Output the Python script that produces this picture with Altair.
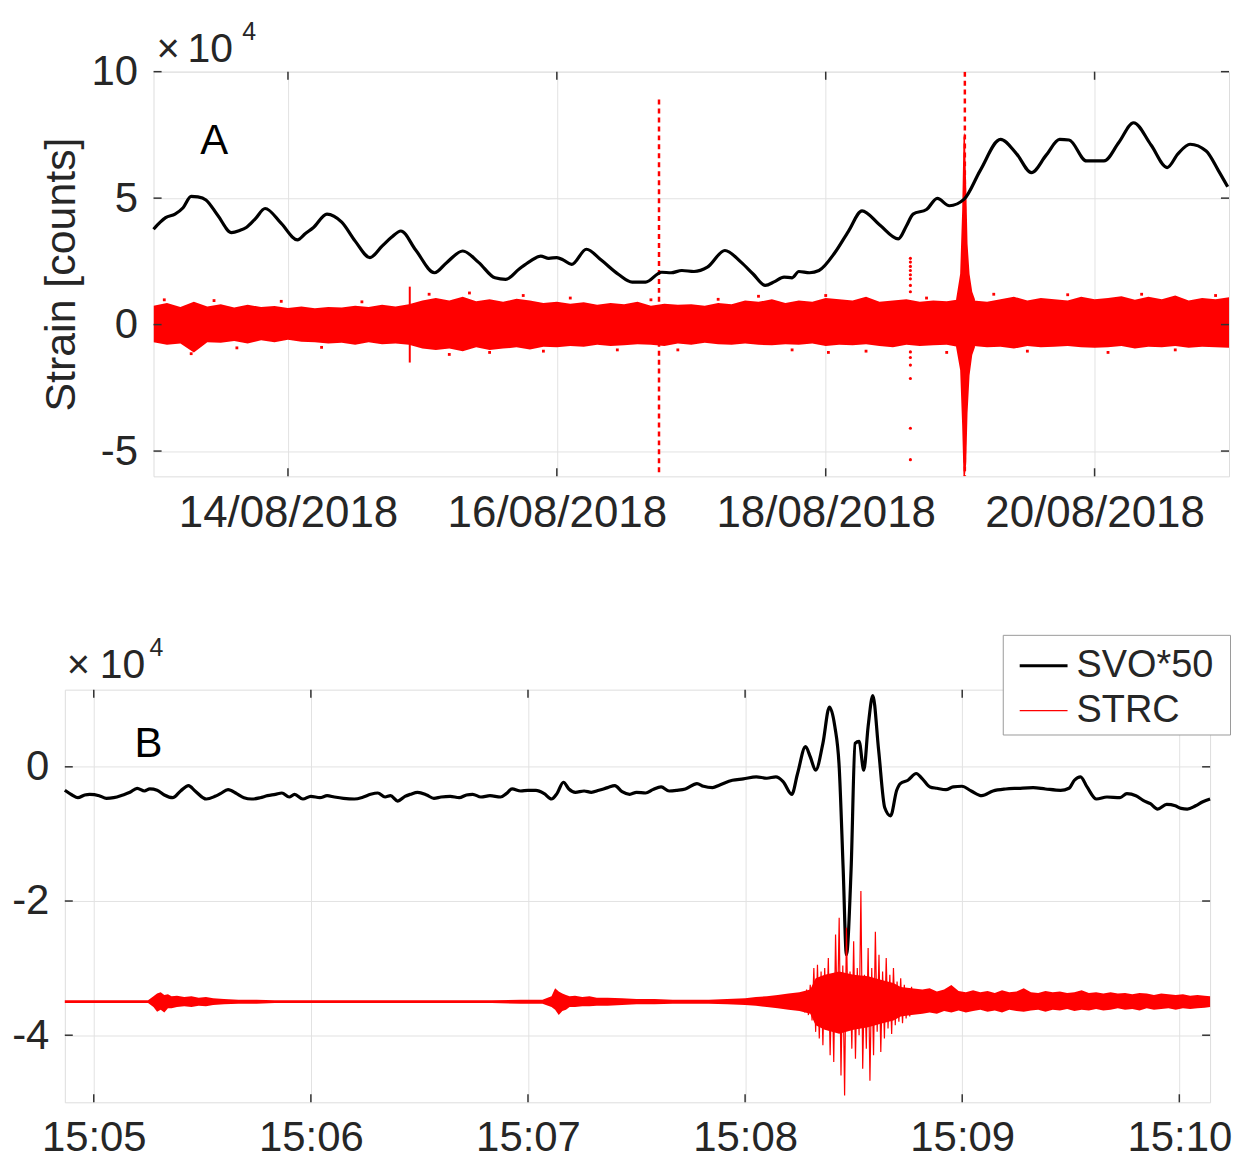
import altair as alt
import pandas as pd

DAY_MS = 86400000
BASE_A = pd.Timestamp("2018-08-13T00:00:00Z").value // 10**6
BASE_B = pd.Timestamp("2018-08-16T15:05:00Z").value // 10**6

# ---------------- Panel A (days after 13/08/2018 00:00 UTC, values x1e4 counts)
svo_a_day = [0.0, 0.05, 0.09, 0.16, 0.22, 0.28, 0.33, 0.39, 0.48, 0.58, 0.64, 0.69, 0.76, 0.83, 0.95,
             1.07, 1.13, 1.19, 1.29, 1.40, 1.50, 1.61, 1.70, 1.77, 1.84, 1.95, 2.09, 2.18, 2.30,
             2.42, 2.54, 2.62, 2.72, 2.80, 2.88, 2.94, 3.00, 3.05, 3.11, 3.22, 3.33, 3.46, 3.56,
             3.66, 3.78, 3.85, 3.93, 4.02, 4.12, 4.25, 4.37, 4.46, 4.55, 4.62, 4.69, 4.75, 4.80,
             4.88, 4.95, 5.07, 5.17, 5.27, 5.40, 5.54, 5.60, 5.65, 5.75, 5.83, 5.92, 6.03, 6.15,
             6.30, 6.42, 6.53, 6.64, 6.74, 6.81, 6.94, 7.07, 7.18, 7.29, 7.42, 7.54, 7.62, 7.71,
             7.83, 7.92, 7.99]
svo_a_val = [3.77, 4.05, 4.23, 4.37, 4.62, 5.07, 5.05, 4.93, 4.30, 3.64, 3.72, 3.84, 4.20, 4.59, 4.00,
             3.35, 3.60, 3.84, 4.37, 4.05, 3.30, 2.65, 3.10, 3.45, 3.70, 2.95, 2.05, 2.45, 2.91,
             2.45, 1.85, 1.79, 2.20, 2.50, 2.71, 2.62, 2.65, 2.55, 2.38, 2.98, 2.55, 1.98, 1.68,
             1.68, 2.07, 2.05, 2.14, 2.10, 2.27, 2.93, 2.47, 2.00, 1.55, 1.70, 1.88, 1.85, 2.10,
             2.05, 2.14, 2.86, 3.70, 4.50, 3.95, 3.39, 3.90, 4.37, 4.55, 4.99, 4.70, 4.96, 6.10,
             7.32, 6.75, 6.01, 6.70, 7.32, 7.30, 6.47, 6.47, 7.20, 7.98, 7.10, 6.21, 6.75, 7.13,
             6.86, 6.10, 5.45]

band_a_day = [0.0, 0.1, 0.2, 0.3, 0.4, 0.5, 0.6, 0.7, 0.8, 0.9, 1.0, 1.1, 1.2, 1.3, 1.4, 1.5, 1.6,
              1.7, 1.8, 1.9, 2.0, 2.1, 2.2, 2.3, 2.4, 2.5, 2.6, 2.7, 2.8, 2.9, 3.0, 3.1, 3.2, 3.3,
              3.4, 3.5, 3.6, 3.7, 3.8, 3.9, 4.0, 4.1, 4.2, 4.3, 4.4, 4.5, 4.6, 4.7, 4.8, 4.9, 5.0,
              5.1, 5.2, 5.3, 5.4, 5.5, 5.6, 5.7, 5.8, 5.9, 6.0, 6.1, 6.2, 6.3, 6.4, 6.5, 6.6, 6.7,
              6.8, 6.9, 7.0, 7.1, 7.2, 7.3, 7.4, 7.5, 7.6, 7.7, 7.8, 7.9, 8.0]
band_a_hi = [0.75, 0.85, 0.70, 0.90, 0.72, 0.80, 0.68, 0.78, 0.70, 0.74, 0.66,
             0.72, 0.65, 0.70, 0.68, 0.75, 0.70, 0.78, 0.72, 0.80, 0.95,
             1.05, 0.95, 1.10, 0.92, 1.00, 0.90, 1.02, 0.95, 0.85, 0.90,
             0.82, 0.88, 0.78, 0.85, 0.80, 0.90, 0.75, 0.82, 0.78, 0.80,
             0.75, 0.85, 0.80, 0.95, 0.90, 1.00, 0.85, 0.95, 0.90, 1.05,
             1.00, 0.95, 1.10, 0.90, 0.95, 1.00, 0.90, 0.95, 0.92, 1.00,
             0.95, 0.90, 1.00, 1.10, 0.95, 1.05, 1.00, 0.95, 1.10, 1.00,
             1.05, 1.12, 0.98, 1.10, 1.00, 1.15, 0.95, 1.05, 1.00, 1.08]
band_a_lo = [-0.70, -0.80, -0.75, -1.10, -0.70, -0.72, -0.65, -0.75, -0.62, -0.70, -0.60,
             -0.68, -0.70, -0.75, -0.72, -0.80, -0.70, -0.78, -0.75, -0.80, -0.95,
             -1.00, -0.95, -1.05, -0.90, -1.00, -0.95, -0.90, -0.98, -0.88, -0.90,
             -0.85, -0.88, -0.80, -0.85, -0.82, -0.78, -0.80, -0.85, -0.75, -0.80,
             -0.72, -0.78, -0.80, -0.75, -0.80, -0.82, -0.78, -0.80, -0.75, -0.85,
             -0.80, -0.82, -0.78, -0.85, -0.90, -0.80, -0.85, -0.82, -0.80, -0.90,
             -0.85, -0.90, -0.88, -0.95, -0.85, -0.90, -0.88, -0.85, -0.90, -0.92,
             -0.90, -0.85, -0.95, -0.88, -0.90, -0.85, -0.92, -0.88, -0.90, -0.92]

# scattered samples just outside the dense band
outl_a_day = [0.08, 0.28, 0.45, 0.62, 0.95, 1.25, 1.55, 2.05, 2.20, 2.35, 2.50, 2.75, 2.90, 3.10,
              3.45, 3.70, 3.90, 4.20, 4.50, 4.75, 5.00, 5.02, 5.30, 5.75, 5.90, 6.25, 6.50, 6.80,
              7.10, 7.35, 7.60, 7.90]
outl_a_val = [0.98, -1.15, 0.95, -0.92, 0.92, -0.90, 0.90, 1.20, -1.18, 1.25, -1.10, 1.15, -1.05,
              1.05, -1.00, 0.98, -1.00, 1.00, 1.12, -1.00, 1.15, -1.10, -1.05, 1.05, -1.10, 1.20,
              -1.05, 1.18, -1.10, 1.20, -1.00, 1.15]

# large event (spindle) on 19/08
burst_a_day = [5.97, 6.00, 6.015, 6.025, 6.035, 6.045, 6.055, 6.07, 6.09, 6.11]
burst_a_hi = [1.0, 2.0, 4.5, 7.4, 7.6, 5.5, 3.2, 2.0, 1.3, 1.0]
burst_a_lo = [-0.9, -1.8, -4.0, -6.0, -6.0, -5.5, -3.5, -2.0, -1.2, -0.9]

# short solid spike on 14/08
spike_a_day = [1.906]
spike_a_lo = [-1.5]
spike_a_hi = [1.5]

# dashed spikes
dash_a_day = [3.76, 6.035]
dash_a_lo = [-6.0, -6.0]
dash_a_hi = [8.9, 10.0]

# isolated samples of 18/08
dots_a_day = [5.63] * 14
dots_a_val = [2.62, 2.47, 2.30, 2.14, 1.97, 1.81, 1.55, 1.30, -1.08, -1.30, -1.60, -2.13, -4.10, -5.34]

# tick positions
ticks_a_day = [1, 3, 5, 7]
ticks_a_val = [-5, 0, 5, 10]

# ---------------- Panel B (seconds after 15:05:00, values x1e4 counts)
svo_b_t = [-8.0, -6, -4.4, -2.5, -1.1, 1.5, 3.5, 5.5, 8, 10, 12, 14, 15.5, 17.5, 19.5, 21.8, 24, 26.2,
           28, 31.1, 33.5, 35, 37.1, 39.5, 41.5, 43.6, 46, 48, 50.2, 52, 54, 55.5, 57.8, 60, 62.5,
           64.5, 66.5, 69, 72, 74.5, 76.5, 78.5, 80.5, 82, 84, 86, 87.5, 89.5, 92, 94, 96, 98.5,
           101, 103, 104.7, 107, 109.5, 112.4, 114, 115.6, 118, 120, 122.2, 124.5, 126.5, 128,
           129.8, 131.3, 133.1, 135.5, 137.5, 139.6, 142, 144, 146, 148.1, 150, 152.5, 154.5,
           156.8, 159, 161.2, 163.5, 166.7, 168.5, 171, 173, 176.5, 179.5, 183.1, 186, 188.5,
           190.5, 192.9, 194.5, 196.7, 198, 199.5, 201.5, 203.3, 204.8, 206.0, 207.1, 208.0,
           209.3, 210.4, 211.5, 212.8, 214, 215.3, 216.9, 218.6, 220.2, 221.9, 222.9, 225,
           227.3, 229, 231.1, 233, 235.5, 237.5, 239.9, 242.5, 245.4, 248.5, 252, 255.5, 259.6,
           263, 267.2, 269.5, 271, 272.7, 274.5, 277.1, 280, 283.6, 285.5, 288, 290, 292, 294,
           296.5, 298.9, 300.5, 302.2, 304.5, 306.5, 308.5]
svo_b_val = [-0.35, -0.42, -0.46, -0.42, -0.41, -0.43, -0.47, -0.46, -0.42, -0.38, -0.32, -0.36,
             -0.33, -0.35, -0.42, -0.46, -0.36, -0.28, -0.36, -0.48, -0.44, -0.40, -0.34, -0.40,
             -0.46, -0.48, -0.46, -0.43, -0.41, -0.39, -0.45, -0.41, -0.48, -0.44, -0.46, -0.43,
             -0.45, -0.47, -0.48, -0.45, -0.41, -0.39, -0.45, -0.43, -0.51, -0.44, -0.41, -0.38,
             -0.42, -0.47, -0.45, -0.44, -0.46, -0.42, -0.41, -0.45, -0.43, -0.45, -0.40, -0.33,
             -0.36, -0.35, -0.35, -0.40, -0.48, -0.40, -0.23, -0.33, -0.38, -0.36, -0.38, -0.35,
             -0.31, -0.28, -0.37, -0.41, -0.38, -0.39, -0.34, -0.30, -0.36, -0.35, -0.33, -0.25,
             -0.29, -0.31, -0.27, -0.20, -0.18, -0.15, -0.17, -0.15, -0.22, -0.41, -0.10, 0.30,
             0.15, -0.05, 0.35, 0.89, 0.60, 0.00, -1.52, -2.80, -1.52, 0.35, 0.38, -0.05, 0.60,
             1.06, 0.25, -0.61, -0.73, -0.35, -0.25, -0.20, -0.10, -0.18, -0.30, -0.32, -0.34,
             -0.30, -0.29, -0.36, -0.43, -0.36, -0.33, -0.32, -0.31, -0.33, -0.35, -0.32, -0.20,
             -0.15, -0.30, -0.48, -0.45, -0.46, -0.40, -0.43, -0.50, -0.55, -0.63, -0.56, -0.58,
             -0.62, -0.63, -0.58, -0.52, -0.48]

strc_b_t = [194.0, 194.5, 195.0, 195.5, 196.0, 196.5, 197.0, 197.5, 198.0, 198.5, 199.0, 199.5,
            200.0, 200.5, 201.0, 201.5, 202.0, 202.5, 203.0, 203.5, 204.0, 204.5, 205.0, 205.5,
            206.0, 206.5, 207.0, 207.5, 208.0, 208.5, 209.0, 209.5, 210.0, 210.5, 211.0, 211.5,
            212.0, 212.5, 213.0, 213.5, 214.0, 214.5, 215.0, 215.5, 216.0, 216.5, 217.0, 217.5,
            218.0, 218.5, 219.0, 219.5, 220.0, 220.5, 221.0, 221.5, 222.0, 222.5, 223.0, 223.5,
            224.0, 224.5, 225.0, 225.5, 226.0, 226.5, 227.0, 227.5, 228.0]
strc_b_val = [-3.45, -3.58, -3.40, -3.62, -3.36, -3.66, -3.32, -3.70, -3.25, -3.78, -3.00, -3.95,
              -2.95, -4.05, -3.05, -4.15, -3.00, -3.90, -2.85, -4.30, -3.10, -4.40, -2.50, -3.80,
              -2.25, -4.60, -2.96, -4.90, -2.40, -3.90, -3.05, -4.20, -2.60, -4.35, -3.00, -4.00,
              -1.85, -4.50, -3.10, -4.20, -2.70, -4.68, -3.00, -4.30, -2.46, -3.95, -2.80, -4.25,
              -3.05, -4.05, -2.85, -3.90, -3.10, -3.98, -3.00, -3.85, -3.20, -3.80, -3.15, -3.82,
              -3.25, -3.75, -3.30, -3.72, -3.28, -3.65, -3.40, -3.62, -3.50]

band_b_t = [-8.0, -4, 0, 4, 8, 12, 15, 16.5, 17.5, 18.5, 19.5, 20.5, 21.5, 23, 25, 27, 29, 31, 33,
            36, 40, 45, 50, 60, 70, 80, 90, 100, 110, 118, 124, 126.5, 127.5, 128.5, 129.5, 130.5,
            131.5, 133, 135, 137, 139, 142, 146, 150, 155, 160, 165, 170, 175, 180, 183, 186, 189,
            192, 195, 198, 199.5, 202, 206, 210, 214, 218, 221, 223, 226, 229, 231, 233, 235, 237,
            239, 241, 243, 245, 247, 249, 251, 253, 255, 257, 259, 261, 263, 265, 267, 269, 271,
            273, 275, 277, 279, 281, 283, 285, 287, 289, 291, 293, 295, 297, 299, 301, 303, 305,
            307, 308.5]
band_b_hi = [-3.48, -3.48, -3.48, -3.48, -3.48, -3.48, -3.48, -3.42, -3.38, -3.36, -3.40, -3.39,
             -3.42, -3.41, -3.43, -3.42, -3.44, -3.43, -3.45, -3.46, -3.47, -3.47, -3.48, -3.48,
             -3.48, -3.48, -3.48, -3.48, -3.48, -3.47, -3.47, -3.42, -3.30, -3.35, -3.38, -3.40,
             -3.42, -3.41, -3.43, -3.42, -3.44, -3.44, -3.45, -3.46, -3.46, -3.47, -3.47, -3.47,
             -3.46, -3.45, -3.43, -3.42, -3.40, -3.38, -3.36, -3.32, -3.15, -3.10, -3.05, -3.10,
             -3.12, -3.18, -3.22, -3.28, -3.30, -3.32, -3.30, -3.35, -3.32, -3.25, -3.34, -3.36,
             -3.33, -3.36, -3.34, -3.37, -3.33, -3.36, -3.35, -3.30, -3.36, -3.37, -3.34, -3.36,
             -3.35, -3.37, -3.36, -3.33, -3.37, -3.36, -3.38, -3.36, -3.38, -3.37, -3.39, -3.37,
             -3.38, -3.40, -3.38, -3.39, -3.40, -3.39, -3.41, -3.40, -3.41, -3.42]
band_b_lo = [-3.52, -3.52, -3.52, -3.52, -3.52, -3.52, -3.52, -3.58, -3.65, -3.62, -3.66, -3.60,
             -3.60, -3.58, -3.57, -3.58, -3.56, -3.57, -3.55, -3.54, -3.53, -3.53, -3.52, -3.52,
             -3.52, -3.52, -3.52, -3.52, -3.52, -3.53, -3.53, -3.58, -3.62, -3.70, -3.64, -3.62,
             -3.58, -3.58, -3.57, -3.57, -3.56, -3.56, -3.55, -3.54, -3.54, -3.53, -3.53, -3.53,
             -3.54, -3.55, -3.56, -3.58, -3.60, -3.62, -3.64, -3.68, -3.85, -3.92, -3.98, -3.92,
             -3.88, -3.82, -3.78, -3.72, -3.70, -3.68, -3.66, -3.68, -3.64, -3.66, -3.63, -3.66,
             -3.64, -3.62, -3.65, -3.63, -3.66, -3.62, -3.64, -3.65, -3.63, -3.62, -3.65, -3.62,
             -3.63, -3.61, -3.64, -3.62, -3.63, -3.61, -3.63, -3.62, -3.60, -3.62, -3.61, -3.63,
             -3.60, -3.62, -3.61, -3.60, -3.62, -3.60, -3.61, -3.60, -3.59, -3.58]

ticks_b_sec = [0, 60, 120, 180, 240, 300]
ticks_b_val = [-4, -2, 0]

# ---------------- styling
FONT = "Liberation Sans"
TXT = "#262626"
RED = "#ff0000"
GRIDC = "#e2e2e2"
TICK_FS = 42
TICKC = "#333333"

def ta(days):
    return [BASE_A + d * DAY_MS for d in days]

def tb(secs):
    return [BASE_B + s * 1000 for s in secs]

def text_layer(text, x, y, size, color=TXT):
    return alt.Chart(pd.DataFrame({"s": [text]})).mark_text(
        align="left", baseline="alphabetic", fontSize=size, font=FONT, color=color
    ).encode(x=alt.value(x), y=alt.value(y), text="s:N")

# ---- Panel A
xA_scale = alt.Scale(type="utc", domain=[BASE_A, BASE_A + 8 * DAY_MS])
yA_scale = alt.Scale(domain=[-6, 10], nice=False, zero=False)
xA_axis = alt.Axis(values=ta(ticks_a_day), format="%d/%m/%Y", title=None,
                   labelFontSize=44, labelPadding=15, ticks=False, domain=False,
                   labelColor=TXT, labelFont=FONT, gridColor=GRIDC, labelFlush=False,
                   labelLimit=500)
yA_axis = alt.Axis(values=ticks_a_val, labelExpr="datum.value + ''", title="Strain [counts]",
                   labelFontSize=TICK_FS, labelPadding=16, ticks=False, domain=False,
                   titleFontSize=43, titleFontWeight="normal", titlePadding=8, titleColor=TXT,
                   titleFont=FONT, labelColor=TXT, labelFont=FONT, gridColor=GRIDC)

def xa(field):
    return alt.X(field, type="temporal", scale=xA_scale, axis=xA_axis)

def ya(field):
    return alt.Y(field, type="quantitative", scale=yA_scale, axis=yA_axis)

df_band_a = pd.DataFrame({"t": ta(band_a_day), "hi": band_a_hi, "lo": band_a_lo})
df_outl_a = pd.DataFrame({"t": ta(outl_a_day), "v": outl_a_val})
df_burst_a = pd.DataFrame({"t": ta(burst_a_day), "hi": burst_a_hi, "lo": burst_a_lo})
df_spike_a = pd.DataFrame({"t": ta(spike_a_day), "hi": spike_a_hi, "lo": spike_a_lo})
df_dash_a = pd.DataFrame({"t": ta(dash_a_day), "hi": dash_a_hi, "lo": dash_a_lo})
df_dots_a = pd.DataFrame({"t": ta(dots_a_day), "v": dots_a_val})
df_svo_a = pd.DataFrame({"t": ta(svo_a_day), "v": svo_a_val})
# inward axis ticks (MATLAB style), about 8 px long
df_xt_a = pd.DataFrame({"t": ta(ticks_a_day) * 2,
                        "y1": [-6.0] * 4 + [10.0] * 4, "y2": [-5.68] * 4 + [9.68] * 4})
df_yt_a = pd.DataFrame({"t1": ta([0.0] * 4 + [8.0] * 4), "t2": ta([0.06] * 4 + [7.94] * 4),
                        "v": ticks_a_val * 2})

band_a = alt.Chart(df_band_a).mark_area(color=RED, opacity=1, clip=True).encode(
    x=xa("t"), y=ya("hi"), y2="lo")
outl_a = alt.Chart(df_outl_a).mark_point(color=RED, filled=True, size=8, opacity=1, shape="square").encode(
    x=xa("t"), y=ya("v"))
burst_a = alt.Chart(df_burst_a).mark_area(color=RED, opacity=1, clip=True).encode(
    x=xa("t"), y=ya("hi"), y2="lo")
spike_a = alt.Chart(df_spike_a).mark_rule(color=RED, strokeWidth=2).encode(
    x=xa("t"), y=ya("hi"), y2="lo")
dash_a = alt.Chart(df_dash_a).mark_rule(color=RED, strokeWidth=2.5, strokeDash=[5, 4], clip=True).encode(
    x=xa("t"), y=ya("hi"), y2="lo")
dots_a = alt.Chart(df_dots_a).mark_point(color=RED, filled=True, size=10, opacity=1).encode(
    x=xa("t"), y=ya("v"))
svo_a = alt.Chart(df_svo_a).mark_line(color="black", strokeWidth=3.2, interpolate="monotone").encode(
    x=xa("t"), y=ya("v"))
xt_a = alt.Chart(df_xt_a).mark_rule(color=TICKC, strokeWidth=1.5).encode(
    x=xa("t"), y=ya("y1"), y2="y2")
yt_a = alt.Chart(df_yt_a).mark_rule(color=TICKC, strokeWidth=1.5).encode(
    x=xa("t1"), x2="t2", y=ya("v"))

panelA = alt.layer(
    band_a, outl_a, burst_a, spike_a, dash_a, dots_a, svo_a, xt_a, yt_a,
    text_layer("×", 3, -10, 40), text_layer("10", 34, -10, 41), text_layer("4", 89, -32, 25),
    text_layer("A", 47, 83, 42, "black"),
).properties(width=1079, height=406)

spacerA = alt.Chart(pd.DataFrame({"v": [0]})).mark_point(opacity=0).encode(
    x=alt.X("v:Q", axis=None), y=alt.Y("v:Q", axis=None)
).properties(width=1, height=406, view=alt.ViewBackground(stroke="transparent"))

rowA = alt.hconcat(spacerA, panelA, spacing=24)

# ---- Panel B
xB_scale = alt.Scale(type="utc", domain=[BASE_B - 8000, BASE_B + 308500])
yB_scale = alt.Scale(domain=[-5, 1.15], nice=False, zero=False)
xB_axis = alt.Axis(values=tb(ticks_b_sec), format="%H:%M", title=None,
                   labelFontSize=TICK_FS, labelPadding=15, ticks=False, domain=False,
                   labelColor=TXT, labelFont=FONT, gridColor=GRIDC, labelFlush=False)
yB_axis = alt.Axis(values=ticks_b_val, labelExpr="datum.value + ''", title=None,
                   labelFontSize=TICK_FS, labelPadding=16, ticks=False, domain=False,
                   labelColor=TXT, labelFont=FONT, gridColor=GRIDC)

def xb(field):
    return alt.X(field, type="temporal", scale=xB_scale, axis=xB_axis)

def yb(field):
    return alt.Y(field, type="quantitative", scale=yB_scale, axis=yB_axis)

SERIES = ["SVO*50", "STRC"]
legend = alt.Legend(orient="none", legendX=941, legendY=-55, title=" ", titleOrient="right",
                    titleFontSize=2, titlePadding=12, symbolType="stroke",
                    symbolSize=2304, labelFontSize=38, labelFont=FONT, labelColor=TXT,
                    strokeColor="#9a9a9a", fillColor="white", padding=5, labelOffset=7,
                    rowPadding=1, symbolOffset=10)
color_enc = alt.Color("series:N", scale=alt.Scale(domain=SERIES, range=["black", RED]), legend=legend)
sw_enc = alt.StrokeWidth("series:N", scale=alt.Scale(domain=SERIES, range=[3.2, 1.2]), legend=legend)

df_band_b = pd.DataFrame({"t": tb(band_b_t), "hi": band_b_hi, "lo": band_b_lo})
df_svo_b = pd.DataFrame({"t": tb(svo_b_t), "v": svo_b_val, "series": "SVO*50"})
df_strc_b = pd.DataFrame({"t": tb(strc_b_t), "v": strc_b_val, "series": "STRC"})
df_xt_b = pd.DataFrame({"t": tb(ticks_b_sec) * 2,
                        "y1": [-5.0] * 6 + [1.15] * 6, "y2": [-4.88] * 6 + [1.03] * 6})
df_yt_b = pd.DataFrame({"t1": tb([-8.0] * 3 + [308.5] * 3), "t2": tb([-5.8] * 3 + [306.3] * 3),
                        "v": ticks_b_val * 2})

band_b = alt.Chart(df_band_b).mark_area(color=RED, opacity=1).encode(x=xb("t"), y=yb("hi"), y2="lo")
svo_b = alt.Chart(df_svo_b).mark_line(interpolate="monotone").encode(
    x=xb("t"), y=yb("v"), color=color_enc, strokeWidth=sw_enc)
strc_b = alt.Chart(df_strc_b).mark_line().encode(
    x=xb("t"), y=yb("v"), color=color_enc, strokeWidth=sw_enc)
xt_b = alt.Chart(df_xt_b).mark_rule(color=TICKC, strokeWidth=1.5).encode(
    x=xb("t"), y=yb("y1"), y2="y2")
yt_b = alt.Chart(df_yt_b).mark_rule(color=TICKC, strokeWidth=1.5).encode(
    x=xb("t1"), x2="t2", y=yb("v"))

panelB = alt.layer(
    svo_b, band_b, strc_b, xt_b, yt_b,
    text_layer("×", 2, -12, 40), text_layer("10", 35, -12, 41), text_layer("4", 85, -34, 25),
    text_layer("B", 70, 68, 42, "black"),
).properties(width=1149, height=414)

spacerB = alt.Chart(pd.DataFrame({"v": [0]})).mark_point(opacity=0).encode(
    x=alt.X("v:Q", axis=None), y=alt.Y("v:Q", axis=None)
).properties(width=1, height=414, view=alt.ViewBackground(stroke="transparent"))

rowB = alt.hconcat(spacerB, panelB, spacing=-4).resolve_scale(color="independent", strokeWidth="independent")

chart = alt.vconcat(rowA, rowB, spacing=98).resolve_scale(
    color="independent", strokeWidth="independent"
).properties(
    padding={"left": 0, "top": 9, "right": 0, "bottom": 0}
).configure_view(stroke="#4a4a4a", strokeWidth=1.5).configure(font=FONT)

chart.save("out.html", embed_options={"renderer": "svg", "actions": False})
